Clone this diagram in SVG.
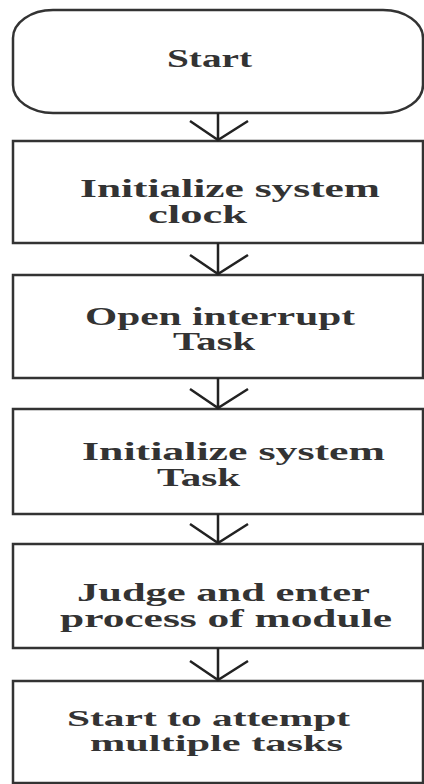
<svg xmlns="http://www.w3.org/2000/svg" width="424" height="784" viewBox="0 0 424 784">
<style>
.box{fill:#fff;stroke:#333;stroke-width:2.5}
.t{font-family:"Liberation Serif","Times New Roman",serif;font-size:24.5px;font-weight:bold;fill:#333;text-anchor:middle}
.s{font-size:23.5px}
.c{fill:none;stroke:#222;stroke-width:2.5}
</style>
<rect width="424" height="784" fill="#fff"/>
<g id="start">
<rect class="box" x="13" y="10" width="410" height="103" rx="40" ry="28"/>
<text class="t" transform="translate(209.5,67) scale(1.5,1)" textLength="56.7" lengthAdjust="spacingAndGlyphs">Start</text>
</g>
<g id="init-clock">
<rect class="box" x="13" y="141" width="410" height="102"/>
<text class="t" transform="translate(230,197) scale(1.5,1)" textLength="200" lengthAdjust="spacingAndGlyphs">Initialize system</text>
<text class="t" transform="translate(197.5,223) scale(1.5,1)" textLength="66" lengthAdjust="spacingAndGlyphs">clock</text>
</g>
<g id="open-interrupt">
<rect class="box" x="13" y="275" width="410" height="103"/>
<text class="t" transform="translate(220,325) scale(1.5,1)" textLength="180" lengthAdjust="spacingAndGlyphs">Open interrupt</text>
<text class="t" transform="translate(214,350) scale(1.5,1)" textLength="54.7" lengthAdjust="spacingAndGlyphs">Task</text>
</g>
<g id="init-task">
<rect class="box" x="13" y="409" width="410" height="105"/>
<text class="t" transform="translate(233.5,460) scale(1.5,1)" textLength="202" lengthAdjust="spacingAndGlyphs">Initialize system</text>
<text class="t" transform="translate(198.5,486) scale(1.5,1)" textLength="55.3" lengthAdjust="spacingAndGlyphs">Task</text>
</g>
<g id="judge">
<rect class="box" x="13" y="544" width="410" height="104"/>
<text class="t" transform="translate(223.5,601) scale(1.5,1)" textLength="195.3" lengthAdjust="spacingAndGlyphs">Judge and enter</text>
<text class="t" transform="translate(226,627) scale(1.5,1)" textLength="221.3" lengthAdjust="spacingAndGlyphs">process of module</text>
</g>
<g id="multitask">
<rect class="box" x="13" y="681" width="410" height="102"/>
<text class="t s" transform="translate(208.5,726) scale(1.5,1)" textLength="188.7" lengthAdjust="spacingAndGlyphs">Start to attempt</text>
<text class="t s" transform="translate(216.5,751) scale(1.5,1)" textLength="168.7" lengthAdjust="spacingAndGlyphs">multiple tasks</text>
</g>
<g id="connectors">
<path class="c" d="M218 113V141M190 121L218 140L248 121"/>
<path class="c" d="M218 243V275M190 255L218 274L248 255"/>
<path class="c" d="M218 378V409M190 389L218 408L248 389"/>
<path class="c" d="M218 514V544M190 524L218 543L248 524"/>
<path class="c" d="M218 648V681M190 661L218 680L248 661"/>
</g>
</svg>
